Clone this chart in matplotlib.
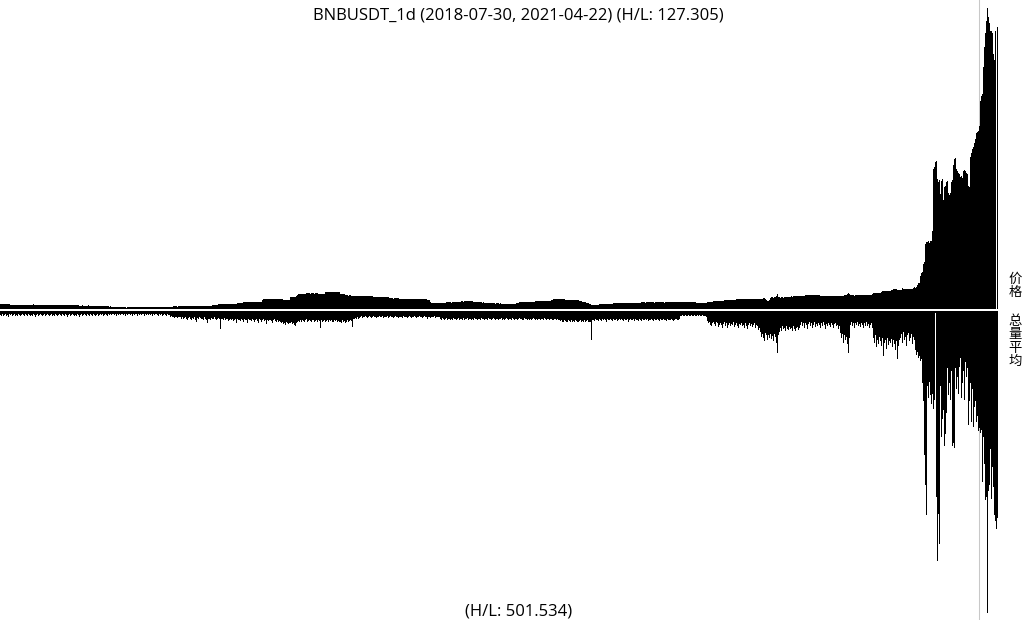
import numpy as np
import matplotlib
matplotlib.use("Agg")
import matplotlib.pyplot as plt

title_text = "BNBUSDT_1d (2018-07-30, 2021-04-22) (H/L: 127.305)"
volume_note = "(H/L: 501.534)"
price_label = "价格"
volume_label = "总量平均"
marker_day = 979  # 2021-04-04

nan = float("nan")

# daily price (USDT), 2018-07-30 .. 2021-04-22
price = [
    12.6, 12.8, 12.4, 12.5, 12.9, 12.3, 12.6, 12.2, 12.4, 12.0,
    11.2, 10.2, 9.8, 9.6, 9.9, 9.5, 9.7, 9.4, 9.8, 9.6,
    9.7, 9.5, 9.9, 9.6, 9.4, 9.8, 9.7, 10.0, 10.8, 11.0,
    11.2, 10.9, 11.1, 11.3, 10.8, 11.0, 11.2, 10.7, 10.0, 9.7,
    9.6, 9.8, 9.5, 9.7, 9.9, 9.6, 9.4, 9.7, 9.8, 9.5,
    9.6, 9.8, 9.9, 10.0, 10.2, 9.9, 10.1, 10.0, 9.8, 10.1,
    10.0, 10.2, 9.9, 10.1, 10.3, 10.9, 11.1, 11.0, 11.2, 10.9,
    11.1, 11.0, 10.8, 11.2, 11.0, 10.9, 11.1, 10.6, 9.4, 9.1,
    9.0, 8.8, 9.2, 9.0, 8.9, 9.1, 8.7, 9.0, 9.2, 8.9,
    8.8, 9.0, 9.1, 8.7, 8.9, 9.0, 8.8, 8.6, 8.9, 8.7,
    8.8, 8.6, 8.9, 8.5, 8.7, 8.4, 8.2, 7.9, 7.3, 7.0,
    7.2, 6.8, 6.3, 5.6, 5.3, 5.1, 5.2, 5.0, 5.4, 5.2,
    5.1, 5.3, 5.0, 5.2, 5.4, 5.1, 4.9, 5.0, 5.2, 5.1,
    5.0, 5.2, 5.3, 5.1, 5.0, 5.2, 5.4, 5.3, 5.1, 5.2,
    5.4, 5.5, 5.3, 5.6, 5.4, 5.2, 5.3, 5.5, 5.6, 5.4,
    5.3, 5.5, 5.7, 5.6, 5.4, 5.5, 5.8, 5.6, 5.7, 5.9,
    5.8, 6.0, 6.2, 6.3, 6.1, 6.2, 6.4, 6.2, 6.3, 6.1,
    6.2, 6.4, 7.0, 7.2, 7.1, 7.3, 7.2, 7.0, 7.3, 7.2,
    7.1, 7.3, 7.2, 7.4, 7.3, 7.8, 7.9, 7.7, 7.8, 8.0,
    7.8, 7.9, 7.7, 7.9, 8.1, 8.6, 8.8, 8.7, 8.9, 8.6,
    8.7, 8.8, 8.6, 8.9, 8.7, 8.8, 8.5, 8.7, 8.9, 8.8,
    8.7, 8.9, 9.2, 10.0, 10.2, 9.9, 10.1, 10.3, 12.3, 12.5,
    12.6, 12.4, 12.7, 12.5, 12.3, 12.6, 12.8, 12.5, 12.4, 12.7,
    12.6, 12.8, 12.5, 12.7, 12.9, 12.6, 13.0, 14.4, 14.6, 14.8,
    14.5, 14.7, 14.9, 16.4, 16.7, 16.5, 16.8, 16.6, 16.9, 16.7,
    16.5, 16.8, 16.6, 17.0, 16.8, 16.6, 16.9, 17.1, 16.8, 17.0,
    17.2, 17.5, 21.5, 22.0, 22.4, 22.6, 22.3, 22.8, 22.5, 22.7,
    22.4, 22.6, 22.9, 22.7, 22.5, 23.0, 22.8, 22.6, 23.1, 22.9,
    22.7, 22.5, 22.2, 21.0, 20.8, 21.2, 21.0, 20.7, 21.3, 21.1,
    26.5, 27.0, 27.4, 26.8, 27.2, 28.0, 29.5, 31.8, 32.5, 32.9,
    32.4, 32.8, 33.1, 32.6, 33.4, 34.2, 34.8, 34.5, 35.0, 34.6,
    34.3, 34.9, 35.2, 34.7, 34.4, 35.0, 34.8, 34.5, 33.0, 32.6,
    32.4, 32.8, 32.5, 32.9, 33.5, 37.2, 37.8, 38.2, 37.6, 37.9,
    38.1, 37.7, 37.9, 38.3, 37.8, 37.5, 38.0, 37.7, 37.4, 36.8,
    34.2, 34.0, 33.6, 34.1, 33.2, 30.8, 30.4, 30.6, 30.2, 30.5,
    30.3, 30.0, 29.8, 29.4, 29.2, 29.5, 29.3, 29.0, 29.4, 29.6,
    29.2, 29.4, 29.1, 29.5, 29.3, 29.0, 29.2, 29.4, 28.9, 29.1,
    29.3, 28.8, 28.5, 28.0, 27.6, 27.3, 27.1, 27.4, 27.2, 26.9,
    27.2, 27.0, 27.3, 26.8, 27.1, 26.9, 27.2, 26.6, 26.4, 25.8,
    24.5, 24.2, 24.0, 23.8, 24.1, 24.3, 23.9, 24.0, 24.2, 23.7,
    23.3, 23.0, 22.8, 23.1, 22.9, 23.2, 23.0, 22.7, 23.1, 22.9,
    23.0, 22.8, 23.2, 22.9, 23.1, 22.7, 23.0, 22.8, 22.5, 22.6,
    22.2, 22.0, 21.8, 22.1, 21.9, 22.2, 22.0, 21.7, 21.5, 20.8,
    15.5, 15.0, 14.6, 14.8, 14.5, 14.7, 14.4, 14.6, 14.9, 14.5,
    14.7, 14.4, 14.6, 14.8, 15.0, 15.4, 15.6, 15.8, 15.5, 15.7,
    15.6, 15.4, 15.8, 15.5, 15.7, 15.9, 15.6, 15.8, 16.0, 16.4,
    17.2, 17.6, 17.8, 17.5, 17.9, 17.7, 18.0, 17.8, 17.6, 17.9,
    17.8, 18.1, 17.7, 17.5, 17.2, 16.8, 16.4, 16.0, 15.6, 15.8,
    15.5, 15.7, 15.4, 15.6, 15.3, 15.1, 15.4, 15.0, 14.6, 14.2,
    13.8, 13.5, 13.7, 13.4, 13.6, 13.3, 13.5, 13.7, 13.4, 13.2,
    13.4, 13.1, 13.3, 13.0, 12.8, 12.5, 12.3, 12.6, 12.4, 12.2,
    12.5, 12.3, 12.6, 12.4, 12.7, 13.0, 14.0, 15.0, 15.4, 15.7,
    15.5, 15.8, 15.6, 15.9, 15.7, 16.0, 15.8, 16.1, 16.3, 16.0,
    16.2, 16.5, 16.8, 17.0, 17.4, 17.6, 17.8, 18.0, 17.7, 17.9,
    18.1, 17.8, 17.6, 17.9, 18.2, 17.8, 18.0, 18.3, 18.6, 19.0,
    19.5, 20.2, 21.0, 21.8, 22.5, 23.0, 23.4, 23.8, 23.3, 23.5,
    23.0, 22.8, 23.2, 22.6, 22.0, 21.4, 21.0, 21.3, 20.8, 21.1,
    20.9, 21.2, 21.0, 20.7, 21.1, 20.8, 20.5, 20.2, 19.8, 19.4,
    18.5, 17.6, 16.8, 16.2, 15.8, 15.5, 15.2, 14.8, 14.0, 13.2,
    11.5, 10.8, 10.4, 10.2, 10.6, 10.3, 10.5, 10.8, 11.2, 11.6,
    12.0, 12.3, 12.5, 12.2, 12.6, 12.4, 12.7, 12.5, 12.3, 12.8,
    12.6, 12.9, 13.2, 13.6, 14.0, 14.4, 14.6, 14.3, 14.7, 14.5,
    14.8, 14.6, 14.4, 14.7, 14.9, 14.6, 14.5, 14.8, 14.7, 14.5,
    14.6, 14.9, 14.7, 14.5, 14.8, 15.0, 14.7, 14.9, 15.1, 15.3,
    15.4, 15.6, 15.5, 15.8, 15.6, 15.4, 15.7, 15.5, 15.8, 15.6,
    15.5, 15.7, 15.9, 15.6, 15.4, 15.7, 15.5, 15.8, 15.6, 15.9,
    15.7, 15.5, 15.8, 15.6, 15.4, 15.7, 15.9, 15.6, 15.8, 15.5,
    15.7, 15.9, 15.6, 15.8, 16.0, 15.7, 15.9, 16.2, 16.5, 16.8,
    17.0, 17.2, 16.9, 17.1, 17.3, 17.0, 16.8, 17.1, 17.2, 16.9,
    17.0, 17.2, 16.8, 16.5, 16.0, 15.6, 15.2, 15.0, 14.9, 15.1,
    15.0, 14.8, 15.2, 15.0, 14.9, 15.1, 15.3, 15.6, 16.8, 17.0,
    16.9, 17.1, 17.3, 18.2, 18.4, 18.6, 18.3, 18.5, 18.7, 18.4,
    18.6, 18.8, 19.0, 19.6, 19.9, 20.1, 19.8, 20.0, 20.2, 19.9,
    20.1, 20.3, 20.0, 20.4, 20.8, 21.6, 22.0, 22.3, 21.9, 22.1,
    22.0, 22.2, 21.8, 22.1, 22.3, 22.0, 22.2, 22.6, 22.8, 22.5,
    22.7, 22.9, 22.6, 22.4, 22.8, 22.6, 22.9, 22.7, 22.5, 22.8,
    23.0, 23.2, 23.5, 24.0, 24.3, 23.6, 20.0, 18.4, 18.8, 19.8,
    24.5, 26.0, 26.5, 25.8, 26.2, 27.5, 29.0, 33.0, 28.0, 26.2,
    25.8, 26.1, 26.4, 25.9, 26.2, 26.0, 26.3, 26.5, 26.8, 27.2,
    27.8, 28.3, 28.0, 28.5, 28.2, 28.4, 28.1, 28.6, 28.3, 28.5,
    28.8, 28.6, 29.0, 29.3, 29.8, 30.6, 31.0, 31.3, 30.8, 31.2,
    31.0, 31.4, 30.9, 31.1, 31.5, 31.2, 30.8, 31.3, 31.0, 30.6,
    29.2, 28.8, 29.1, 28.9, 29.2, 29.0, 29.3, 29.8, 30.0, 29.6,
    29.8, 30.1, 29.7, 29.9, 30.2, 29.8, 29.6, 29.9, 30.1, 29.7,
    29.9, 30.2, 29.8, 30.0, 30.3, 30.6, 31.5, 34.0, 34.8, 34.2,
    31.0, 30.6, 30.3, 30.5, 30.2, 30.6, 30.4, 30.7, 30.3, 30.5,
    30.8, 31.0, 31.4, 31.6, 31.3, 31.5, 31.8, 31.4, 31.6, 31.2,
    31.5, 32.0, 33.2, 35.0, 35.4, 35.1, 35.6, 35.3, 35.0, 35.5,
    35.8, 37.0, 39.2, 40.0, 40.5, 39.8, 40.2, 40.6, 39.9, 40.3,
    40.1, 40.8, 42.5, 44.2, 44.8, 44.5, 44.0, 41.5, 41.0, 41.3,
    41.2, 42.0, 47.0, 44.2, 43.8, 44.3, 44.0, 43.6, 44.1, 44.4,
    43.9, 44.2, 44.6, 46.5, 47.2, 46.8, 47.3, 52.0, 55.7, 56.5,
    72.0, 77.0, 79.5, 96.0, 100.0, 138.0, 142.0, 143.5, 145.0, 141.0,
    144.5, 146.0, 167.0, 296.0, 302.0, 311.0, 313.0, 276.0, 270.0, 274.0,
    245.0, 271.0, 275.0, 231.0, 258.0, 262.0, 270.0, 272.0, 247.0, 243.0,
    246.0, 270.0, 274.0, 305.0, 318.0, 320.0, 296.0, 292.0, 288.0, 287.0,
    281.0, 283.0, 279.0, 292.0, 295.0, 293.0, 289.0, 286.0, 262.0, 260.0,
    323.0, 330.0, 340.0, 344.0, 351.0, 361.0, 372.0, 376.0, 378.0, 387.0,
    441.0, 450.0, 456.0, 513.0, 555.0, 583.0, 610.0, 636.5, 618.0, 604.0,
    589.0, 589.0, 583.0, 540.0, 526.0, 589.0, nan, 597.0,
]

# daily volume (relative units, low = 1)
volume = [
    6, 7, 5, 8, 6, 5, 7, 6, 9, 5,
    6, 5, 7, 6, 5, 8, 6, 7, 5, 6,
    7, 6, 5, 6, 8, 5, 6, 7, 5, 6,
    8, 6, 7, 5, 6, 9, 6, 5, 7, 6,
    5, 6, 7, 6, 5, 8, 6, 5, 6, 7,
    6, 5, 7, 6, 8, 5, 6, 7, 6, 5,
    6, 8, 5, 6, 7, 5, 6, 9, 6, 5,
    7, 6, 5, 6, 8, 6, 7, 5, 6, 10,
    6, 5, 7, 6, 5, 6, 8, 5, 6, 7,
    5, 6, 7, 5, 6, 8, 6, 5, 7, 6,
    5, 6, 5, 7, 6, 5, 6, 8, 5, 6,
    5, 6, 5, 5, 6, 5, 7, 5, 6, 5,
    6, 5, 5, 6, 5, 7, 5, 6, 5, 5,
    6, 5, 8, 5, 6, 5, 5, 7, 5, 6,
    5, 6, 5, 5, 7, 5, 6, 5, 6, 5,
    6, 5, 7, 5, 6, 5, 5, 6, 8, 5,
    6, 5, 7, 6, 5, 6, 7, 5, 6, 6,
    9, 8, 10, 9, 11, 10, 9, 11, 10, 9,
    10, 12, 9, 13, 11, 10, 12, 14, 11, 10,
    12, 14, 11, 13, 10, 15, 18, 11, 13, 10,
    11, 13, 12, 15, 10, 12, 14, 19, 13, 12,
    14, 11, 12, 13, 10, 12, 15, 13, 11, 12,
    29, 13, 12, 14, 11, 15, 13, 12, 16, 14,
    13, 15, 12, 16, 14, 13, 20, 12, 15, 14,
    16, 13, 14, 17, 12, 15, 14, 19, 13, 15,
    14, 16, 13, 15, 17, 14, 12, 16, 20, 13,
    15, 17, 14, 13, 16, 15, 21, 14, 16, 15,
    14, 16, 20, 15, 13, 16, 18, 15, 17, 16,
    18, 20, 17, 21, 19, 22, 18, 20, 21, 19,
    20, 18, 21, 19, 22, 24, 19, 17, 16, 18,
    15, 17, 14, 16, 18, 15, 13, 17, 16, 14,
    16, 18, 15, 14, 17, 16, 15, 18, 14, 16,
    27, 15, 17, 16, 14, 18, 16, 15, 17, 14,
    16, 15, 17, 18, 14, 16, 15, 17, 16, 18,
    17, 19, 15, 18, 16, 20, 17, 15, 18, 16,
    14, 16, 26, 13, 12, 11, 13, 10, 12, 11,
    10, 8, 11, 9, 10, 8, 9, 11, 10, 8,
    9, 11, 10, 8, 10, 9, 11, 10, 9, 8,
    10, 9, 8, 11, 10, 9, 10, 8, 11, 9,
    8, 10, 9, 11, 10, 8, 9, 10, 11, 9,
    10, 9, 11, 8, 10, 9, 10, 11, 9, 8,
    9, 11, 10, 9, 8, 10, 11, 9, 10, 8,
    10, 9, 11, 10, 8, 9, 10, 12, 9, 10,
    11, 10, 9, 10, 8, 11, 10, 9, 10, 9,
    12, 14, 11, 13, 15, 12, 11, 14, 13, 12,
    14, 12, 15, 11, 13, 12, 14, 13, 11, 15,
    12, 13, 14, 11, 15, 12, 13, 11, 14, 12,
    13, 15, 12, 14, 11, 13, 12, 15, 13, 12,
    14, 11, 13, 12, 15, 13, 12, 14, 11, 13,
    12, 14, 13, 11, 12, 15, 13, 12, 14, 12,
    13, 11, 14, 12, 15, 13, 11, 12, 14, 13,
    12, 14, 11, 13, 15, 12, 13, 14, 12, 11,
    13, 12, 15, 14, 11, 13, 12, 14, 13, 15,
    12, 14, 13, 11, 12, 15, 13, 14, 12, 13,
    14, 12, 13, 15, 11, 13, 14, 12, 13, 15,
    13, 12, 14, 15, 13, 12, 14, 13, 15, 14,
    16, 15, 17, 18, 15, 16, 18, 17, 15, 16,
    17, 15, 18, 16, 17, 15, 16, 18, 17, 16,
    15, 17, 16, 18, 15, 17, 16, 15, 17, 18,
    17, 47, 15, 14, 16, 13, 15, 14, 16, 12,
    14, 16, 13, 15, 12, 14, 17, 13, 15, 14,
    13, 15, 16, 12, 14, 15, 13, 16, 14, 12,
    15, 13, 14, 16, 12, 15, 14, 13, 17, 14,
    13, 15, 14, 12, 16, 13, 15, 14, 16, 13,
    14, 16, 13, 15, 14, 12, 15, 13, 16, 14,
    15, 13, 14, 16, 12, 14, 15, 13, 14, 16,
    13, 15, 14, 12, 15, 14, 16, 13, 14, 15,
    14, 13, 15, 16, 14, 12, 13, 15, 14, 12,
    8, 7, 6, 8, 7, 6, 7, 8, 6, 7,
    7, 6, 8, 7, 6, 7, 8, 6, 7, 6,
    7, 8, 6, 7, 8, 7, 9, 16, 20, 18,
    22, 25, 19, 17, 21, 24, 18, 20, 26, 22,
    19, 23, 27, 21, 18, 24, 20, 28, 22, 19,
    25, 21, 23, 18, 26, 22, 20, 24, 28, 21,
    23, 19, 25, 22, 27, 20, 24, 30, 22, 19,
    24, 21, 26, 23, 20, 28, 22, 25, 31, 27,
    35, 42, 38, 45, 50, 36, 40, 48, 39, 44,
    37, 46, 41, 49, 38, 43, 52, 70, 40, 35,
    28, 32, 25, 30, 27, 33, 24, 29, 31, 26,
    30, 27, 32, 25, 29, 33, 28, 26, 31, 27,
    22, 18, 25, 20, 27, 19, 23, 30, 21, 17,
    24, 20, 28, 22, 18, 26, 21, 25, 19, 23,
    27, 20, 24, 18, 22, 29, 21, 25, 19, 23,
    26, 20, 23, 28, 21, 19, 25, 22, 30, 24,
    36, 45, 38, 52, 40, 48, 42, 55, 70, 44,
    22, 18, 25, 20, 27, 19, 23, 17, 24, 21,
    26, 19, 22, 28, 20, 24, 18, 25, 21, 27,
    23, 20, 28, 45, 52, 40, 60, 48, 55, 42,
    50, 58, 45, 75, 52, 47, 62, 44, 56, 49,
    53, 46, 60, 48, 55, 65, 50, 80, 58, 47,
    45, 38, 52, 35, 48, 42, 58, 40, 36, 50,
    44, 38, 55, 42, 47, 65, 72, 68, 78, 75,
    82, 80, 120, 150, 240, 290, 340, 125, 145, 118,
    140, 155, 138, 162, 148, 1, 310, 415, 337, 387,
    125, 210, 180, 165, 225, 205, 170, 95, 140, 120,
    148, 100, 225, 220, 228, 95, 130, 110, 137, 92,
    78, 145, 120, 100, 148, 85, 110, 95, 190, 150,
    120, 185, 130, 192, 160, 150, 185, 175, 200, 195,
    203, 198, 285, 210, 255, 315, 310, 501.534, 300, 290,
    230, 312, 260, 292, 340, 350, 362, 345,
]

price_arr = np.array(price, dtype=float)
vol_arr = np.array(volume, dtype=float)
days = np.arange(len(price_arr))

W, H = 1024, 620
fig = plt.figure(figsize=(W / 100, H / 100), dpi=100)
fig.patch.set_facecolor("white")


def rect(x0, y0, x1, y1):
    return [x0 / W, 1 - y1 / H, (x1 - x0) / W, (y1 - y0) / H]


n = len(days)
ax_p = fig.add_axes(rect(0, 0, n, 308.5))
ax_v = fig.add_axes(rect(0, 311.3, n, 620))

# price panel: bars from the panel floor up to each day's price
pmin, pmax = np.nanmin(price_arr), np.nanmax(price_arr)
kp = (pmax - pmin) / 299.5
ax_p.bar(days, price_arr, width=1.0, color="black", linewidth=0,
         antialiased=False, zorder=2)
ax_p.set_ylim(pmin - 1.0 * kp, pmax + 8.0 * kp)
ax_p.set_xlim(-0.5, n - 0.5)
ax_p.axvline(marker_day, color="#c8c8c8", lw=0.75, zorder=0)
ax_p.axis("off")

# volume panel: bars hanging down from the top
vmax = np.nanmax(vol_arr)
kv = vmax / 301.2
ax_v.bar(days, vol_arr, width=1.0, color="black", linewidth=0,
         antialiased=False, zorder=2)
ax_v.set_ylim(vmax + 7.5 * kv, 0)
ax_v.set_xlim(-0.5, n - 0.5)
ax_v.axhline(0, color="black", lw=2.9, zorder=3)
ax_v.axvline(marker_day, color="#c8c8c8", lw=0.75, zorder=0)
ax_v.axis("off")

latin = ["Open Sans", "Noto Sans CJK SC", "DejaVu Sans"]
cjk = ["Noto Sans CJK SC", "DejaVu Sans"]

fig.text(518 / W, 1 - 20 / H, title_text, ha="center", va="baseline",
         fontsize=12, family=latin, color="black")
fig.text(519 / W, 1 - 615.5 / H, volume_note, ha="center", va="baseline",
         fontsize=12, family=latin, color="black")

fig.text(1015 / W, 1 - 272 / H, "\n".join(price_label), ha="center", va="top",
         fontsize=9.6, family=cjk, color="black", linespacing=0.95)
fig.text(1015 / W, 1 - 314 / H, "\n".join(volume_label), ha="center", va="top",
         fontsize=9.6, family=cjk, color="black", linespacing=0.95)

fig.savefig("out.png", dpi=100, facecolor="white")
